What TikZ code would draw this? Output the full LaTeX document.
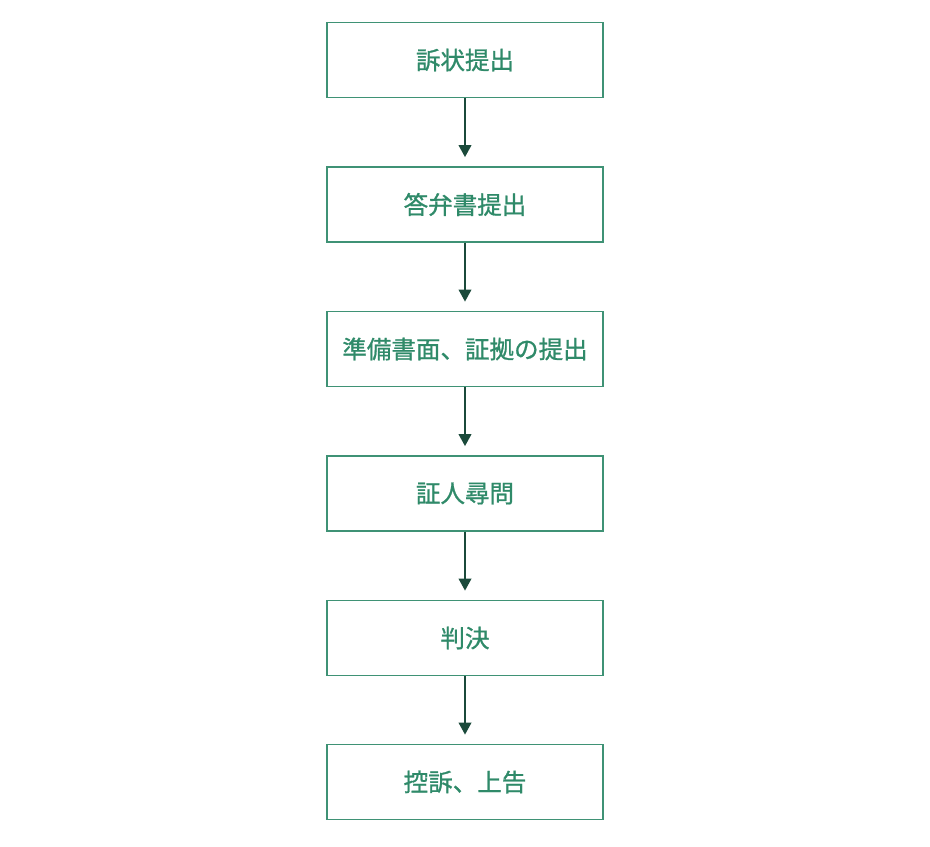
\documentclass[tikz,border=0pt]{standalone}
\usepackage{fontspec}
\usepackage{xcolor}
\usepackage{tikz}
\usetikzlibrary{
    positioning,
    arrows.meta,
}
\newfontfamily\jpfont[FakeBold=0.9]{Noto Sans CJK JP}
\definecolor{boxgreen}{HTML}{3F9275}
\definecolor{textgreen}{HTML}{2F8A69}
\definecolor{arrowgreen}{HTML}{1B4A3B}
\tikzset{
    % Basic node styles
    stage/.style={rectangle, draw=boxgreen, line width=1.1pt, fill=white,
                  minimum width=207pt, minimum height=56pt, inner sep=0pt,
                  align=center, text=textgreen,
                  font=\jpfont\fontsize{18.4pt}{21pt}\selectfont},
    % Arrow styles
    flow/.style={-{Triangle[length=9pt, width=9.5pt]}, line width=1.3pt,
                 draw=arrowgreen, fill=arrowgreen, shorten >=7pt},
}

\begin{document}
\begin{tikzpicture}[x=0.75pt, y=-0.75pt]
    \useasboundingbox (0,0) rectangle (930,846);

    % Stages
    \node[stage] (complaint) at (465, 60) {訴状提出};
    \node[stage] (answer) at (465, 204.5) {答弁書提出};
    \node[stage] (briefs) at (465, 349) {準備書面、証拠の提出};
    \node[stage] (witness) at (465, 493.5) {証人尋問};
    \node[stage] (judgment) at (465, 638) {判決};
    \node[stage] (appeal) at (465, 782) {控訴、上告};

    % Arrows
    \draw[flow] (complaint) -- (answer);
    \draw[flow] (answer) -- (briefs);
    \draw[flow] (briefs) -- (witness);
    \draw[flow] (witness) -- (judgment);
    \draw[flow] (judgment) -- (appeal);
\end{tikzpicture}
\end{document}
